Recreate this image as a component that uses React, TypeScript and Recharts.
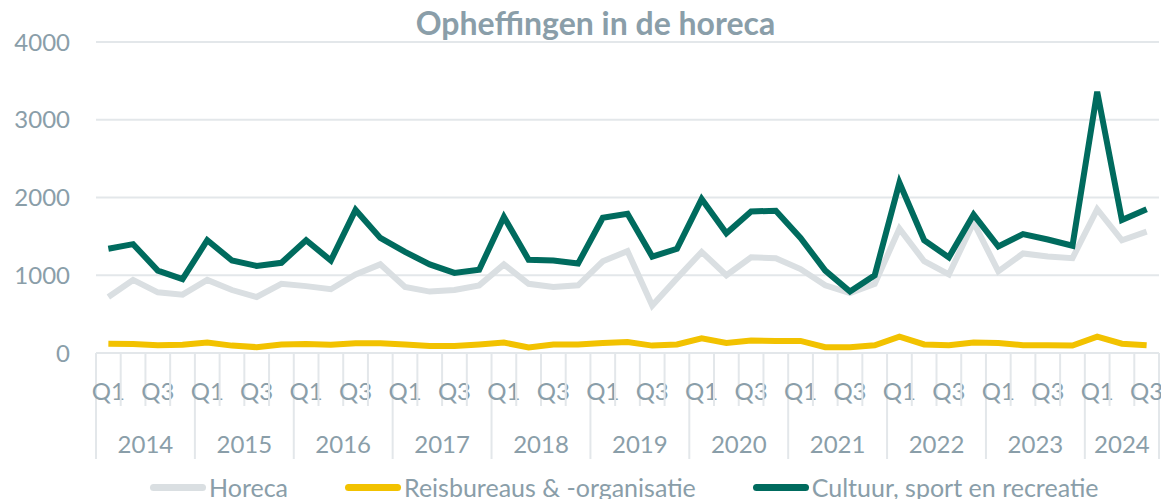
import React from 'react'
import { LineChart, Line, XAxis, YAxis, CartesianGrid } from 'recharts'

const years = ['2014', '2015', '2016', '2017', '2018', '2019', '2020', '2021', '2022', '2023', '2024']
const quarters = ['Q1', 'Q2', 'Q3', 'Q4']
const yTicks = [0, 1000, 2000, 3000, 4000]

const horeca = [
  720, 940, 780, 750, 940, 810, 720, 890, 860, 820, 1010, 1140, 850, 790, 810, 870,
  1140, 890, 850, 870, 1180, 1310, 610, 960, 1300, 1000, 1230, 1220, 1080, 870, 770, 890,
  1600, 1180, 1010, 1680, 1050, 1280, 1240, 1220, 1850, 1450, 1560
]
const reisbureaus = [
  120, 115, 100, 105, 135, 95, 75, 110, 115, 105, 125, 125, 110, 90, 90, 110,
  135, 70, 110, 110, 130, 140, 95, 110, 190, 130, 160, 155, 155, 75, 75, 100,
  210, 110, 100, 135, 130, 100, 100, 95, 210, 120, 100
]
const cultuur = [
  1340, 1400, 1060, 950, 1450, 1190, 1120, 1160, 1450, 1190, 1840, 1480, 1300, 1140, 1030, 1070,
  1750, 1200, 1190, 1150, 1740, 1790, 1240, 1340, 1980, 1540, 1820, 1830, 1480, 1060, 790, 1000,
  2190, 1450, 1230, 1780, 1370, 1530, 1460, 1380, 3360, 1710, 1850
]

const labels: { year: string; q: string }[] = []
years.forEach((y) => quarters.forEach((q) => labels.push({ year: y, q })))
const data = horeca.map((h, i) => ({
  key: labels[i].year + ' ' + labels[i].q,
  year: labels[i].year,
  q: labels[i].q,
  horeca: h,
  reis: reisbureaus[i],
  cultuur: cultuur[i]
}))

const W = 1161
const H = 499
const LEFT = 96
const RIGHT = 2
const band = (W - LEFT - RIGHT) / data.length
const TEXT = '#8a9ea9'
const GRID = '#e3e7ea'
const FONT = 'Lato, "Open Sans", sans-serif'

const colors = { horeca: '#dadfe2', reis: '#f2c200', cultuur: '#006b5e' }

function QuarterTick(props: any) {
  const { x, y, index } = props
  const d = data[index]
  if (!d) return null
  const left = x - band / 2
  const quartersInYear = data.filter((r) => r.year === d.year).length
  const isLast = index === data.length - 1
  return (
    <g>
      <line x1={left} x2={left} y1={y} y2={y + (d.q === 'Q1' ? 106 : 53)} stroke={GRID} strokeWidth={2} />
      {isLast && <line x1={x + band / 2} x2={x + band / 2} y1={y} y2={y + 106} stroke={GRID} strokeWidth={2} />}
      {(d.q === 'Q1' || d.q === 'Q3') && (
        <text x={x} y={y + 47} textAnchor="middle" fill={TEXT} fontSize={24} fontFamily={FONT}>
          {d.q}
        </text>
      )}
      {d.q === 'Q1' && (
        <text x={left + (quartersInYear * band) / 2} y={y + 100} textAnchor="middle" fill={TEXT} fontSize={24} fontFamily={FONT}>
          {d.year}
        </text>
      )}
    </g>
  )
}

const legendItems = [
  { name: 'Horeca', color: colors.horeca },
  { name: 'Reisbureaus & -organisatie', color: colors.reis },
  { name: 'Cultuur, sport en recreatie', color: colors.cultuur }
]

export default function App() {
  return (
    <div style={{ position: 'absolute', left: 0, top: 0, width: W, height: H, background: '#fff', overflow: 'hidden' }}>
      <div
        style={{
          position: 'absolute', left: 15, top: 3, width: W, textAlign: 'center',
          fontFamily: FONT, fontWeight: 700, fontSize: 32, color: TEXT
        }}
      >
        Opheffingen in de horeca
      </div>
      <LineChart width={W} height={H} data={data} margin={{ top: 42, right: RIGHT, left: 0, bottom: 36 }}>
        <CartesianGrid vertical={false} stroke={GRID} strokeWidth={2} />
        <XAxis
          dataKey="key"
          interval={0}
          height={110}
          padding={{ left: band / 2, right: band / 2 }}
          tickLine={false}
          tickSize={0}
          tickMargin={0}
          axisLine={{ stroke: GRID, strokeWidth: 2 }}
          tick={<QuarterTick />}
        />
        <YAxis
          width={LEFT}
          domain={[0, 4000]}
          ticks={yTicks}
          axisLine={false}
          tickLine={false}
          tickSize={0}
          tickMargin={26}
          tick={{ fill: TEXT, fontSize: 24, fontFamily: FONT }}
        />
        <Line dataKey="horeca" stroke={colors.horeca} strokeWidth={6} dot={false} isAnimationActive={false} />
        <Line dataKey="reis" stroke={colors.reis} strokeWidth={6} dot={false} isAnimationActive={false} />
        <Line dataKey="cultuur" stroke={colors.cultuur} strokeWidth={6} dot={false} isAnimationActive={false} />
      </LineChart>
      <div style={{ position: 'absolute', left: 150, top: 472, display: 'flex', gap: 57, fontFamily: FONT, fontSize: 25, color: TEXT, whiteSpace: 'nowrap' }}>
        {legendItems.map((it) => (
          <div key={it.name} style={{ display: 'flex', alignItems: 'center' }}>
            <span style={{ display: 'inline-block', width: 56, height: 7, borderRadius: 4, background: it.color, marginRight: 3 }} />
            <span>{it.name}</span>
          </div>
        ))}
      </div>
    </div>
  )
}
